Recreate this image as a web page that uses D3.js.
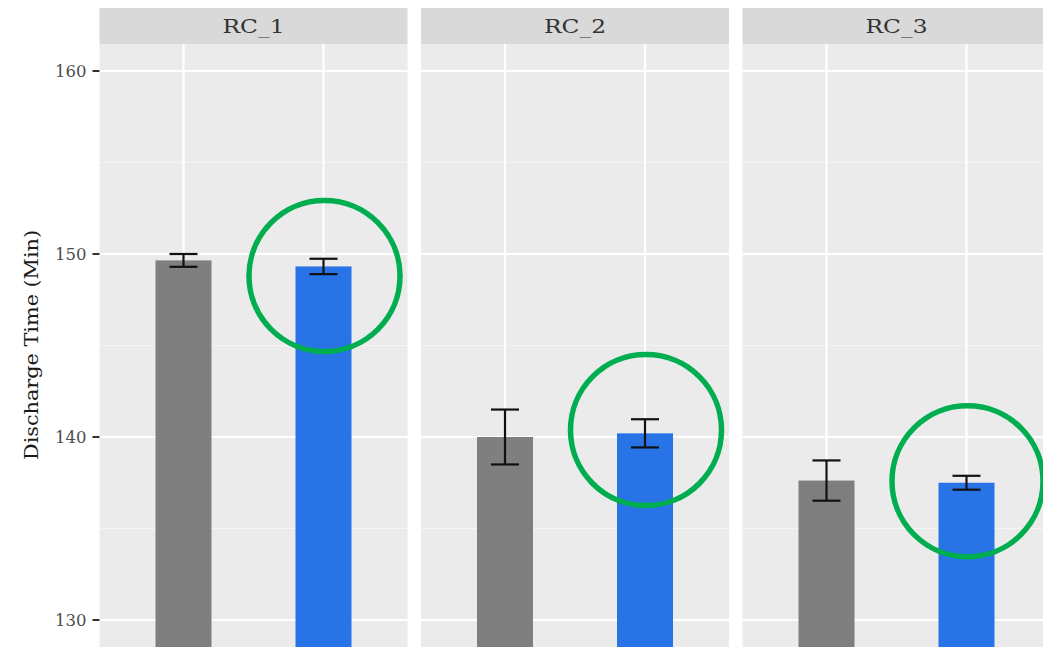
<!DOCTYPE html>
<html><head><meta charset="utf-8">
<script src="https://cdn.jsdelivr.net/npm/d3@7"></script>
<style>body{margin:0;background:#fff}svg{display:block}</style>
</head><body><div id="chart"></div>
<script>
const facets = ["RC_1", "RC_2", "RC_3"];
const groups = ["A", "B"];
const meanA = [149.65, 140.0, 137.62];
const seA   = [0.35, 1.5, 1.1];
const meanB = [149.32, 140.2, 137.5];
const seB   = [0.42, 0.77, 0.38];
const circleCenter = [148.8, 140.38, 137.58];
const yTicks = [130, 140, 150, 160];
const yMinor = [135, 145, 155];
const yLabel = "Discharge Time (Min)";

const W = 1043, H = 647;
const svg = d3.select("#chart").append("svg").attr("width", W).attr("height", H);
const font = "'DejaVu Serif', 'Liberation Serif', serif";

const panelW = 308, gap = 13.5, left0 = 99.5;
const stripTop = 8, stripH = 36, panelTop = stripTop + stripH, panelBottom = 660;
const y = d3.scaleLinear().domain([130, 160]).range([620, 71]);
const colors = {A: "#7f7f7f", B: "#2873e6"};

facets.forEach((f, i) => {
  const x0 = left0 + i * (panelW + gap);
  const xc = d3.scaleLinear().domain([0.4, 2.6]).range([x0, x0 + panelW]);
  const pos = g => xc(groups.indexOf(g) + 1);
  const bw = xc(1.2) - xc(0.8);
  const g = svg.append("g");
  g.append("rect").attr("x", x0).attr("y", panelTop).attr("width", panelW)
    .attr("height", panelBottom - panelTop).attr("fill", "#ebebeb");
  yMinor.forEach(v => g.append("line").attr("x1", x0).attr("x2", x0 + panelW)
    .attr("y1", y(v)).attr("y2", y(v)).attr("stroke", "#f5f5f5").attr("stroke-width", 1.1));
  yTicks.forEach(v => g.append("line").attr("x1", x0).attr("x2", x0 + panelW)
    .attr("y1", y(v)).attr("y2", y(v)).attr("stroke", "#ffffff").attr("stroke-width", 2.2));
  groups.forEach(gr => g.append("line").attr("x1", pos(gr)).attr("x2", pos(gr))
    .attr("y1", panelTop).attr("y2", panelBottom).attr("stroke", "#ffffff").attr("stroke-width", 2.2));
  g.append("rect").attr("x", x0).attr("y", stripTop).attr("width", panelW).attr("height", stripH).attr("fill", "#d9d9d9");
  g.append("text").attr("x", x0 + panelW / 2).attr("y", stripTop + stripH / 2 + 6.5)
    .attr("text-anchor", "middle").attr("font-family", font).attr("font-size", 18.5)
    .attr("textLength", 62).attr("lengthAdjust", "spacingAndGlyphs")
    .attr("fill", "#333333").text(f);
  const data = [
    {g: "A", m: meanA[i], s: seA[i]},
    {g: "B", m: meanB[i], s: seB[i]}
  ];
  data.forEach(d => {
    g.append("rect").attr("x", pos(d.g) - bw / 2).attr("y", y(d.m)).attr("width", bw)
      .attr("height", panelBottom - y(d.m)).attr("fill", colors[d.g]);
  });
  data.forEach(d => {
    const cw = (xc(1.1) - xc(0.9)) / 2;
    const cx = pos(d.g);
    const eg = g.append("g").attr("stroke", "#111").attr("stroke-width", 2.2);
    eg.append("line").attr("x1", cx).attr("x2", cx).attr("y1", y(d.m + d.s)).attr("y2", y(d.m - d.s));
    eg.append("line").attr("x1", cx - cw).attr("x2", cx + cw).attr("y1", y(d.m + d.s)).attr("y2", y(d.m + d.s));
    eg.append("line").attr("x1", cx - cw).attr("x2", cx + cw).attr("y1", y(d.m - d.s)).attr("y2", y(d.m - d.s));
  });
  svg.append("circle").attr("cx", pos("B") + 1).attr("cy", y(circleCenter[i])).attr("r", 75.5)
    .attr("fill", "none").attr("stroke", "#00ae4f").attr("stroke-width", 5.5);
});

yTicks.forEach(v => {
  svg.append("line").attr("x1", left0 - 7).attr("x2", left0).attr("y1", y(v)).attr("y2", y(v))
    .attr("stroke", "#333").attr("stroke-width", 2);
  svg.append("text").attr("x", left0 - 13).attr("y", y(v) + 6).attr("text-anchor", "end")
    .attr("font-family", font).attr("font-size", 16.5).attr("fill", "#4d4d4d").text(v);
});
svg.append("text").attr("transform", `translate(38,345) rotate(-90)`).attr("text-anchor", "middle")
  .attr("font-family", font).attr("font-size", 19)
  .attr("textLength", 230).attr("lengthAdjust", "spacingAndGlyphs")
  .attr("fill", "#1a1a1a").text(yLabel);
</script></body></html>
